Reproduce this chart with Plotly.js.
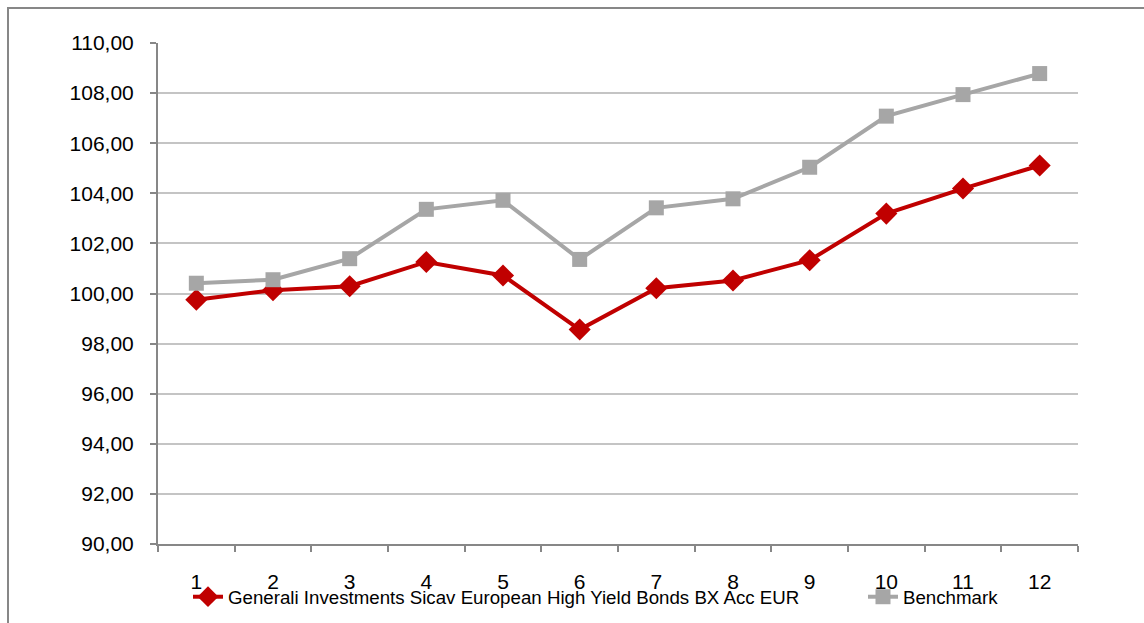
<!DOCTYPE html>
<html>
<head>
<meta charset="utf-8">
<script src="https://cdn.plot.ly/plotly-3.0.1.min.js"></script>
<style>
  html, body { margin: 0; padding: 0; background: #ffffff; overflow: hidden; }
  #frame { position: absolute; left: 7px; top: 7px; width: 1300px; height: 800px;
           border-left: 2px solid #878787; border-top: 2px solid #878787; }
  #chart { position: absolute; left: 0; top: 0; width: 1144px; height: 623px; }
</style>
</head>
<body>
<div id="frame"></div>
<div id="chart"></div>
<script>
const categories = ["1","2","3","4","5","6","7","8","9","10","11","12"];
const fundName = "Generali Investments Sicav European High Yield Bonds BX Acc EUR";
const fundValues = [99.75, 100.13, 100.29, 101.26, 100.72, 98.56, 100.21, 100.52, 101.33, 103.19, 104.19, 105.11];
const benchName = "Benchmark";
const benchValues = [100.41, 100.55, 101.39, 103.36, 103.72, 101.36, 103.42, 103.78, 105.04, 107.08, 107.94, 108.78];
const yTicks = [90, 92, 94, 96, 98, 100, 102, 104, 106, 108, 110];

const traces = [
  {
    x: categories, y: fundValues, name: fundName, type: "scatter", mode: "lines+markers",
    line: { color: "#C00000", width: 4 },
    marker: { symbol: "diamond", size: 17, color: "#C00000" },
    legendwidth: 630
  },
  {
    x: categories, y: benchValues, name: benchName, type: "scatter", mode: "lines+markers",
    line: { color: "#A6A6A6", width: 4 },
    marker: { symbol: "square", size: 15, color: "#A6A6A6" },
    legendwidth: 110
  }
];

const layout = {
  width: 1144, height: 623,
  margin: { l: 158, r: 66, t: 43, b: 79, autoexpand: false },
  paper_bgcolor: "rgba(0,0,0,0)",
  plot_bgcolor: "rgba(0,0,0,0)",
  separators: ", ",
  font: { family: "Liberation Sans, Arial, sans-serif", size: 21, color: "#000000" },
  showlegend: true,
  legend: {
    orientation: "h", x: 0.0326, y: -0.068, xanchor: "left", yanchor: "top",
    font: { family: "Liberation Sans, Arial, sans-serif", size: 18.7, color: "#000000" },
    bgcolor: "rgba(0,0,0,0)"
  },
  xaxis: {
    type: "category", categoryorder: "array", categoryarray: categories,
    range: [-0.5, 11.5],
    tickson: "boundaries", ticks: "outside", ticklen: 6, tickwidth: 2, tickcolor: "#878787",
    showline: true, linecolor: "#878787", linewidth: 2,
    showgrid: false, zeroline: false,
    ticklabelstandoff: 18,
    tickfont: { size: 21, color: "#000000" }
  },
  yaxis: {
    range: [90, 110], tickvals: yTicks, tickformat: ".2f",
    ticks: "outside", ticklen: 6, tickwidth: 2, tickcolor: "#878787",
    showline: true, linecolor: "#878787", linewidth: 2,
    showgrid: true, gridcolor: "#C4C4C4", gridwidth: 2,
    zeroline: false,
    ticklabelstandoff: 12,
    tickfont: { size: 21, color: "#000000" }
  }
};

Plotly.newPlot("chart", traces, layout, { displayModeBar: false, staticPlot: true });
</script>
</body>
</html>
